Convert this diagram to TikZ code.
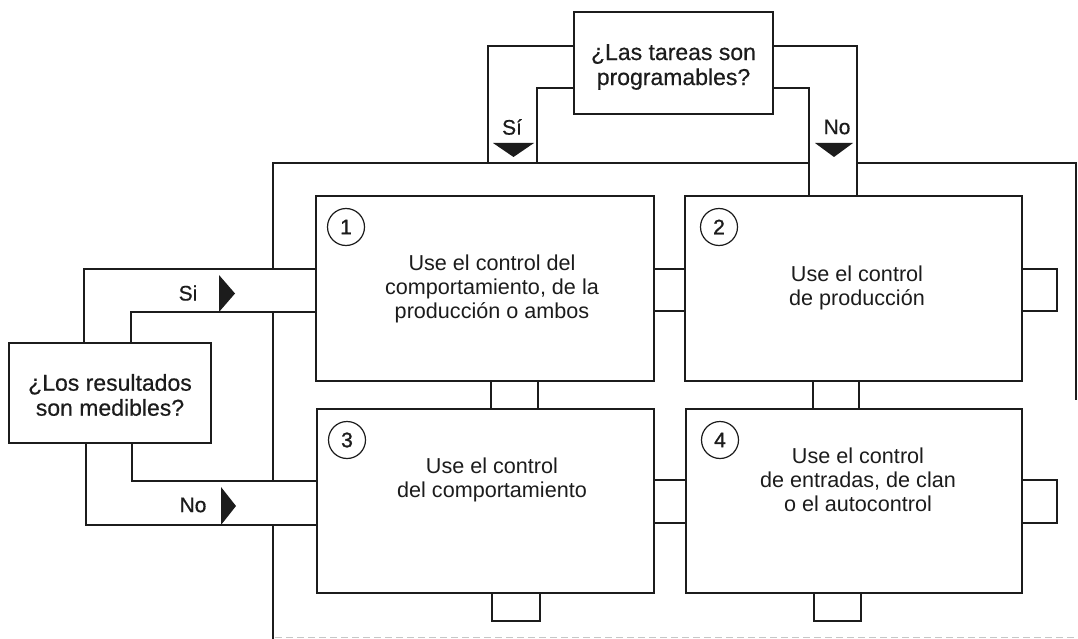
\documentclass[tikz,border=0pt]{standalone}
\usepackage{fontspec}
\setmainfont{Liberation Sans}
\newfontface\qfont{Liberation Sans}[FakeBold=0.5]
\newfontface\nfont{Liberation Sans}[FakeBold=1.2]
\definecolor{ink}{HTML}{1C1C1C}
\begin{document}
\begin{tikzpicture}[x=1pt,y=-1pt,
  box/.style={draw=ink, line width=1.3pt, rectangle, inner sep=0pt},
  pipe/.style={draw=ink, line width=1.3pt},
  tri/.style={fill=ink},
  txt/.style={align=center, text=ink, inner sep=0pt, font=\fontsize{21.6}{24}\selectfont},
  qtxt/.style={align=center, text=ink, inner sep=0pt, font=\qfont\fontsize{23}{25}\selectfont},
  lbl/.style={text=ink, inner sep=0pt, font=\qfont\fontsize{21}{21}\selectfont},
  num/.style={circle, draw=ink, line width=1.2pt, minimum size=37pt, inner sep=0pt, text=ink, font=\nfont\fontsize{21}{21}\selectfont}]
\useasboundingbox (0,0) rectangle (1078,639);
\fill[white] (0,0) rectangle (1078,639);

% question boxes
\node[box, minimum width=199pt, minimum height=102pt] (qt) at (673.5,63) {};
\node[qtxt] (qtt) at (673.5,67) {¿Las tareas son\\programables?};
\node[box, minimum width=202pt, minimum height=100pt] (ql) at (110,393) {};
\node[qtxt] (qlt) at (110,395) {¿Los resultados\\son medibles?};

% four option boxes
\node[box, minimum width=338pt, minimum height=185pt] (b1) at (485,288.5) {};
\node[box, minimum width=337pt, minimum height=185pt] (b2) at (853.5,288.5) {};
\node[box, minimum width=337pt, minimum height=184pt] (b3) at (485.5,501) {};
\node[box, minimum width=336pt, minimum height=184pt] (b4) at (854,501) {};

\node[txt] (t1) at (492,289) {Use el control del\\comportamiento, de la\\producción o ambos};
\node[txt] (t2) at (857,288) {Use el control\\de producción};
\node[txt] (t3) at (492,480) {Use el control\\del comportamiento};
\node[txt] (t4) at (858,480) {Use el control\\de entradas, de clan\\o el autocontrol};

\node[num] (n1) at (346,227) {1};
\node[num] (n2) at (719,227) {2};
\node[num] (n3) at (347,440) {3};
\node[num] (n4) at (720,440) {4};

% frame
\coordinate (fA) at (273,269);
\coordinate (fB) at (273,163);
\coordinate (fC) at (809,163);
\coordinate (fD) at (857,163);
\coordinate (fE) at (1076,163);
\coordinate (fF) at (1076,400);
\draw[pipe] (fA) -- (fB) -- (fC);
\draw[pipe] (fD) -- (fE) -- (fF);
\draw[pipe] (273,312) -- (273,481);
\draw[pipe] (273,525) -- (273,639);
\draw[gray!45, line width=0.8pt, dash pattern=on 7pt off 4pt] (275,637) -- (1078,637);

% top question channels
\draw[pipe] (qt.west |- 0,46) -| (488,163);
\draw[pipe] (qt.west |- 0,88) -| (537,163);
\draw[pipe] (qt.east |- 0,46) -| (b2.north -| 857,0);
\draw[pipe] (qt.east |- 0,88) -| (b2.north -| 809,0);

% left question channels
\draw[pipe] (ql.north -| 84,0) |- (b1.west |- 0,269);
\draw[pipe] (ql.north -| 131,0) |- (b1.west |- 0,312);
\draw[pipe] (ql.south -| 132,0) |- (b3.west |- 0,481);
\draw[pipe] (ql.south -| 86,0) |- (b3.west |- 0,525);

% links between boxes
\draw[pipe] (b1.east |- 0,269) -- (b2.west |- 0,269);
\draw[pipe] (b1.east |- 0,311) -- (b2.west |- 0,311);
\draw[pipe] (b3.east |- 0,480) -- (b4.west |- 0,480);
\draw[pipe] (b3.east |- 0,523) -- (b4.west |- 0,523);
\draw[pipe] (b1.south -| 491,0) -- (b3.north -| 491,0);
\draw[pipe] (b1.south -| 538,0) -- (b3.north -| 538,0);
\draw[pipe] (b2.south -| 813,0) -- (b4.north -| 813,0);
\draw[pipe] (b2.south -| 859,0) -- (b4.north -| 859,0);

% stubs
\draw[pipe] (b2.east |- 0,269) -| (1057,311) -- (b2.east |- 0,311);
\draw[pipe] (b4.east |- 0,480) -| (1057,523) -- (b4.east |- 0,523);
\draw[pipe] (b3.south -| 492,0) |- (540,621) -- (b3.south -| 540,0);
\draw[pipe] (b4.south -| 814,0) |- (861,621) -- (b4.south -| 861,0);

% arrowheads
\fill[tri] (493,143) -- (534,143) -- (513.5,157) -- cycle;
\fill[tri] (815,143) -- (853,143) -- (834,157) -- cycle;
\fill[tri] (219,275) -- (219,312) -- (235,293.5) -- cycle;
\fill[tri] (221,487) -- (221,525) -- (236,506) -- cycle;

% labels
\node[lbl] (lsi) at (512,127) {Sí};
\node[lbl] (lno) at (837,127) {No};
\node[lbl] (lsi2) at (188,293) {Si};
\node[lbl] (lno2) at (193,505) {No};
\end{tikzpicture}
\end{document}
